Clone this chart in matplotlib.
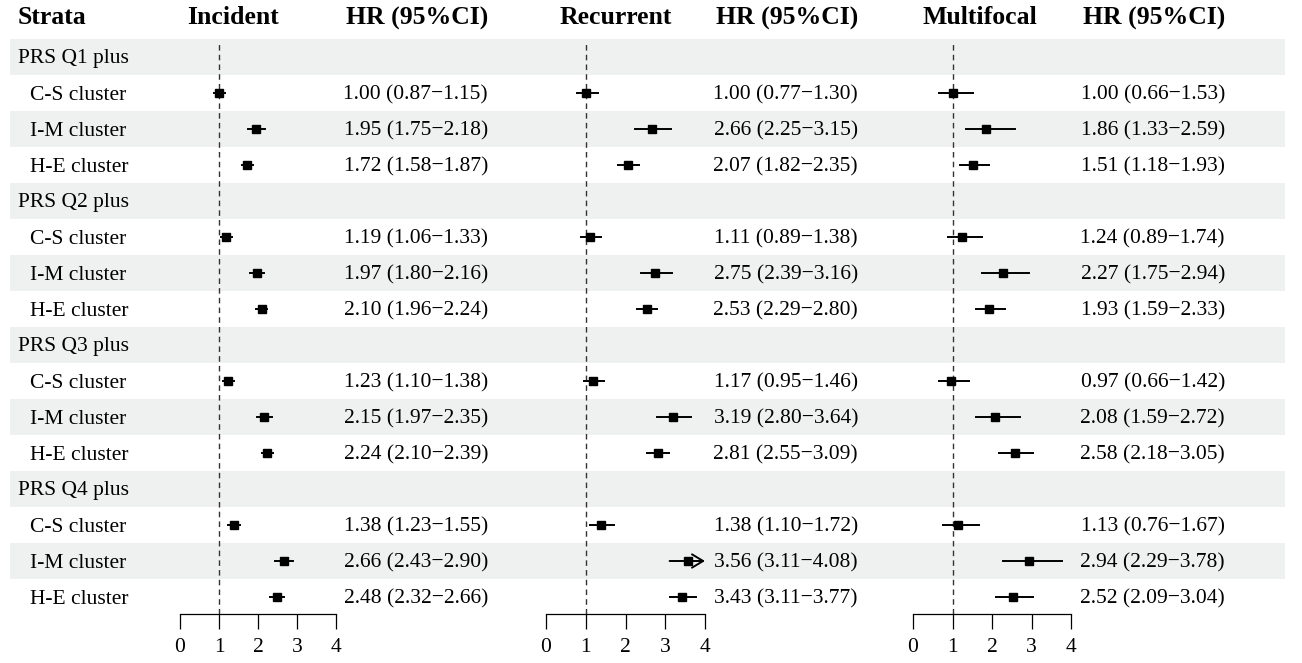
import matplotlib
matplotlib.use('Agg')
import matplotlib.pyplot as plt

plt.rcParams['font.family'] = ['Liberation Serif', 'DejaVu Serif']

groups = ['PRS Q1 plus', 'PRS Q2 plus', 'PRS Q3 plus', 'PRS Q4 plus']
clusters = ['C-S cluster', 'I-M cluster', 'H-E cluster']
outcomes = ['Incident', 'Recurrent', 'Multifocal']

incident_hr = [1.00, 1.95, 1.72, 1.19, 1.97, 2.10, 1.23, 2.15, 2.24, 1.38, 2.66, 2.48]
incident_lo = [0.87, 1.75, 1.58, 1.06, 1.80, 1.96, 1.10, 1.97, 2.10, 1.23, 2.43, 2.32]
incident_hi = [1.15, 2.18, 1.87, 1.33, 2.16, 2.24, 1.38, 2.35, 2.39, 1.55, 2.90, 2.66]

recurrent_hr = [1.00, 2.66, 2.07, 1.11, 2.75, 2.53, 1.17, 3.19, 2.81, 1.38, 3.56, 3.43]
recurrent_lo = [0.77, 2.25, 1.82, 0.89, 2.39, 2.29, 0.95, 2.80, 2.55, 1.10, 3.11, 3.11]
recurrent_hi = [1.30, 3.15, 2.35, 1.38, 3.16, 2.80, 1.46, 3.64, 3.09, 1.72, 4.08, 3.77]

multifocal_hr = [1.00, 1.86, 1.51, 1.24, 2.27, 1.93, 0.97, 2.08, 2.58, 1.13, 2.94, 2.52]
multifocal_lo = [0.66, 1.33, 1.18, 0.89, 1.75, 1.59, 0.66, 1.59, 2.18, 0.76, 2.29, 2.09]
multifocal_hi = [1.53, 2.59, 1.93, 1.74, 2.94, 2.33, 1.42, 2.72, 3.05, 1.67, 3.78, 3.04]

series = [(incident_hr, incident_lo, incident_hi),
          (recurrent_hr, recurrent_lo, recurrent_hi),
          (multifocal_hr, multifocal_lo, multifocal_hi)]
xticks = [0, 1, 2, 3, 4]
xmax = 4

W, H = 1302, 663
fig = plt.figure(figsize=(W / 100, H / 100), dpi=100)


def fx(px):
    return px / W


def fy(py):
    return 1 - py / H


row_top = 39
row_h = 36
n_rows = len(groups) * (len(clusters) + 1)
axis_y = 614
txt_dy = 2

# background bands + labels
bg = fig.add_axes([0, 0, 1, 1])
bg.set_xlim(0, W)
bg.set_ylim(H, 0)
bg.axis('off')
labels = []
for g in groups:
    labels.append((g, 18))
    for c in clusters:
        labels.append((c, 30))
for i, (lab, x) in enumerate(labels):
    y0 = row_top + i * row_h
    if i % 2 == 0:
        bg.add_patch(plt.Rectangle((10, y0), 1275, row_h, color='#eff1f0', lw=0))
    bg.text(x, y0 + row_h / 2 + txt_dy, lab, fontsize=15.5, va='center', ha='left')

bg.text(18, 18, 'Strata', fontsize=18.5, fontweight='bold', va='center')

panel_x0 = [180, 546, 913]
panel_x4 = [336, 705, 1071]
hr_right = [488, 858, 1225]
title_cx = [233, 616, 980]

for p in range(3):
    hr, lo, hi = series[p]
    bg.text(title_cx[p], 18, outcomes[p], fontsize=18.5, fontweight='bold',
            ha='center', va='center')
    bg.text(hr_right[p], 18, 'HR (95%CI)', fontsize=18.5, fontweight='bold',
            ha='right', va='center')

    ax = fig.add_axes([fx(panel_x0[p]), fy(axis_y),
                       fx(panel_x4[p]) - fx(panel_x0[p]), fy(row_top) - fy(axis_y)])
    ax.set_xlim(0, xmax)
    bottom = n_rows - 1 + 0.5 - (axis_y - row_top) / row_h
    ax.set_ylim(bottom, n_rows - 0.5)
    ax.patch.set_alpha(0)
    for s in ['top', 'right', 'left']:
        ax.spines[s].set_visible(False)
    ax.spines['bottom'].set_bounds(0, xmax)
    ax.spines['bottom'].set_linewidth(0.9)
    ax.set_yticks([])
    ax.set_xticks(xticks)
    ax.tick_params(axis='x', direction='out', length=11, width=0.9, labelsize=15.5, pad=6)

    ax.plot([1, 1], [bottom, n_rows - 0.65], ls=(0, (4, 3)), color='#333333', lw=1)

    k = 0
    for gi in range(len(groups)):
        for ci in range(len(clusters)):
            row = gi * (len(clusters) + 1) + ci + 1
            y = n_rows - 1 - row
            h, l, u = hr[k], lo[k], hi[k]
            if u > xmax:
                ax.annotate('', xy=(xmax, y), xytext=(l, y),
                            arrowprops=dict(arrowstyle='->,head_length=0.5,head_width=0.3',
                                            color='black', lw=1.4,
                                            shrinkA=0, shrinkB=0, mutation_scale=16),
                            annotation_clip=False)
            else:
                ax.plot([l, u], [y, y], color='black', lw=1.4, clip_on=False)
            ax.plot(h, y, 's', color='black', ms=6, clip_on=False)
            bg.text(hr_right[p], row_top + row * row_h + row_h / 2 + txt_dy,
                    '%.2f (%.2f\u2212%.2f)' % (h, l, u), fontsize=15.5,
                    ha='right', va='center')
            k += 1

plt.savefig('out.png', dpi=100)
